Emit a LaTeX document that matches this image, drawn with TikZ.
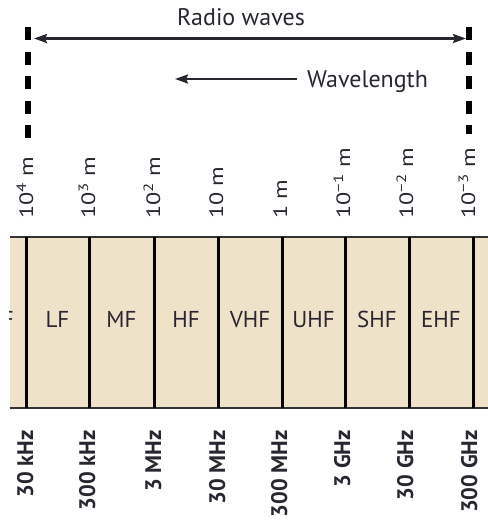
\documentclass[tikz,border=0pt]{standalone}
\usepackage{fontspec}
\usepackage{graphicx}
\setmainfont{PT Sans}
\usetikzlibrary{arrows.meta}
\definecolor{bandfill}{HTML}{EEE3C9}
\definecolor{ink}{HTML}{2A2630}
\newcommand{\wltext}[1]{\scalebox{1.15}[0.92]{#1}}
\begin{document}
\begin{tikzpicture}[x=1pt,y=-1pt,
  txt/.style={inner sep=0pt, text=ink},
  wl/.style={txt, rotate=90, anchor=base west, font=\fontsize{21}{21}\selectfont},
  fq/.style={txt, rotate=90, anchor=base east, font=\fontsize{22.5}{22.5}\selectfont\bfseries},
  band/.style={txt, anchor=base, font=\fontsize{23}{23}\selectfont},
  divider/.style={black, line width=3pt},
  border/.style={draw=black!80, line width=2.6pt},
  dashline/.style={black, line width=5.5pt, dash pattern=on 13pt off 11.5pt},
  arr/.style={ink, line width=2.6pt, -{Stealth[length=13pt,width=9pt,inset=2pt]}},
  darr/.style={ink, line width=2.6pt, {Stealth[length=13pt,width=9pt,inset=2pt]}-{Stealth[length=13pt,width=9pt,inset=2pt]}}
]
\useasboundingbox (0,0) rectangle (488,523);
% band
\fill[bandfill] (9.5,237) rectangle (488,408);
\begin{scope}
\clip (9.5,237) rectangle (26,408);
\node[band, anchor=base east] (vlf) at (14,327) {VLF};
\end{scope}
\draw[border] (9.5,237) -- (488,237);
\draw[border] (9.5,408) -- (488,408);
\foreach \x/\n in {26/a,89/b,154/c,218/d,282/e,345/f,409/g,473/h}
  \draw[divider] (\x,237) -- (\x,408);
% band labels
\node[band] (lf)  at (57.5,327) {LF};
\node[band] (mf)  at (121.5,327) {MF};
\node[band] (hf)  at (186,327) {HF};
\node[band] (vhf) at (250,327) {VHF};
\node[band] (uhf) at (313.5,327) {UHF};
\node[band] (shf) at (377,327) {SHF};
\node[band] (ehf) at (441,327) {EHF};
% dashed markers
\coordinate (lt) at (28,27);
\coordinate (lb) at (28,139);
\coordinate (rt) at (469,27);
\coordinate (rb) at (469,134);
\draw[dashline] (lt) -- (lb);
\draw[dashline] (rt) -- (rb);
% radio waves arrow
\coordinate (ra) at (34,38.5);
\coordinate (rbb) at (466,38.5);
\draw[darr] (ra) -- (rbb);
\node[txt, anchor=base, font=\fontsize{24}{24}\selectfont] (radio) at (241,25) {Radio waves};
% wavelength arrow
\node[txt, anchor=base west, font=\fontsize{24}{24}\selectfont] (wave) at (307,87) {Wavelength};
\coordinate (wtip) at (175,79);
\draw[arr] (wave.west |- wtip) ++(-10,0) -- (wtip);
% wavelength labels
\node[wl] (w4) at (33,219) {\wltext{10\textsuperscript{4} m}};
\node[wl] (w3) at (95,219) {\wltext{10\textsuperscript{3} m}};
\node[wl] (w2) at (160,219) {\wltext{10\textsuperscript{2} m}};
\node[wl] (w1) at (223,219) {\wltext{10 m}};
\node[wl] (w0) at (287,219) {\wltext{1 m}};
\node[wl] (wm1) at (350,219) {\wltext{10\textsuperscript{−1} m}};
\node[wl] (wm2) at (413,219) {\wltext{10\textsuperscript{−2} m}};
\node[wl] (wm3) at (475,219) {\wltext{10\textsuperscript{−3} m}};
% frequency labels
\node[fq] (f1) at (33,430) {30 kHz};
\node[fq] (f2) at (95,430) {300 kHz};
\node[fq] (f3) at (161,430) {3 MHz};
\node[fq] (f4) at (225,430) {30 MHz};
\node[fq] (f5) at (287,430) {300 MHz};
\node[fq] (f6) at (350,430) {3 GHz};
\node[fq] (f7) at (413,430) {30 GHz};
\node[fq] (f8) at (477,430) {300 GHz};
\end{tikzpicture}
\end{document}
